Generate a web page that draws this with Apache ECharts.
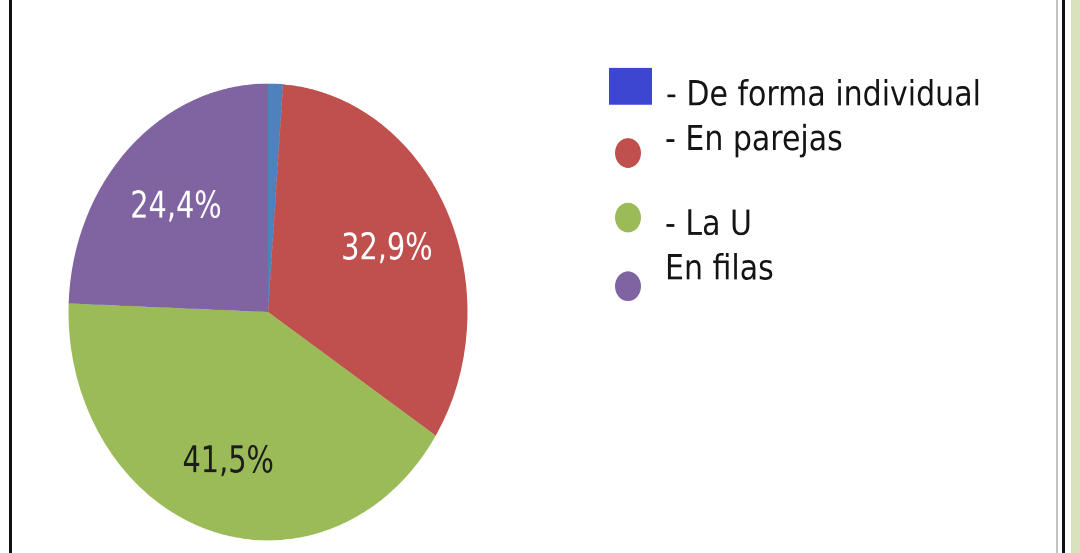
<!DOCTYPE html>
<html>
<head>
<meta charset="utf-8">
<script src="https://cdn.jsdelivr.net/npm/echarts@6/dist/echarts.min.js"></script>
<style>
  html, body { margin: 0; padding: 0; background: #ffffff; overflow: hidden; }
  #page { position: relative; width: 1080px; height: 553px; overflow: hidden; background: #fff; }
  #chart { position: absolute; left: 0; top: 0; width: 1080px; height: 483px; transform: scaleY(1.14493); transform-origin: 0 0; }
  .line { position: absolute; top: 0; height: 553px; }
</style>
</head>
<body>
<div id="page">
  <div id="chart"></div>
  <div class="line" style="left:9px;width:3px;background:#111;"></div>
  <div class="line" style="left:1056px;width:2px;background:#c4c4c4;"></div>
  <div class="line" style="left:1062px;width:3px;background:#111;"></div>
  <div class="line" style="left:1071px;width:9px;background:#d8e3bd;"></div>
</div>
<script>
// ---- data ----
const categories = ['- De forma individual', '- En parejas', '- La U', 'En filas'];
const values = [1.2, 32.9, 41.5, 24.4];
const showLabel = [false, true, true, true];

// ---- styles ----
const sliceColors = ['#4F81BD', '#C0504D', '#9BBB59', '#8064A2'];
const legendColors = ['#3C46D0', '#C0504D', '#9BBB59', '#8064A2'];
const labelColors = ['#ffffff', '#ffffff', '#1c1c1c', '#ffffff'];
const legendIcons = ['rect', 'circle', 'circle', 'circle'];

// legend layout (unscaled coordinates); shift = text offset from icon centre (+ down, - up)
const legendLayout = [
  { left: 609, iconTop: 59.4,  w: 43, h: 32, padLeft: 9,  shift: 7 },
  { left: 615, iconTop: 120.6, w: 28, h: 26, padLeft: 18, shift: -12.6 },
  { left: 615, iconTop: 177,   w: 28, h: 26, padLeft: 18, shift: 5 },
  { left: 615, iconTop: 237,   w: 28, h: 26, padLeft: 18, shift: -16 }
];
const legendFontSize = 30;

const legendFont = '"DejaVu Sans", "Noto Sans", sans-serif';
const labelFont = '"Liberation Sans Narrow", "DejaVu Sans Condensed", "Roboto", sans-serif';

const fmt = v => v.toFixed(1).replace('.', ',') + '%';

const chart = echarts.init(document.getElementById('chart'), null, { renderer: 'canvas', devicePixelRatio: 2 });

const center = [268, 272.5];
const R = 199.5;

const option = {
  animation: false,
  backgroundColor: 'transparent',
  legend: categories.map((c, i) => {
    const L = legendLayout[i];
    const t = L.shift + 2;               // line-centre target (glyphs sit ~2px above line centre)
    const lh = Math.max(2, 2 * Math.abs(t));
    const H = lh + Math.max(lh, legendFontSize);
    const boxTop = Math.min(0, L.h / 2 - H / 2);
    return {
      orient: 'vertical',
      left: L.left,
      top: L.iconTop + boxTop,
      padding: 0,
      itemWidth: L.w,
      itemHeight: L.h,
      selectedMode: false,
      formatter: name => (t > 0 ? '\n' + name : name + '\n'),
      data: [{ name: c, icon: legendIcons[i], itemStyle: { color: legendColors[i], borderWidth: 0 } }],
      textStyle: {
        fontFamily: legendFont,
        fontSize: legendFontSize,
        lineHeight: lh,
        color: '#141414',
        padding: [0, 0, 0, L.padLeft]
      }
    };
  }),
  series: [
    {
      type: 'pie',
      center: center,
      radius: R,
      startAngle: 90,
      clockwise: true,
      silent: true,
      label: { show: false },
      labelLine: { show: false },
      itemStyle: { borderWidth: 0 },
      emphasis: { disabled: true },
      data: categories.map((c, i) => ({ name: c, value: values[i], itemStyle: { color: sliceColors[i] } }))
    },
    {
      type: 'pie',
      center: center,
      radius: [60, R],
      startAngle: 90,
      clockwise: true,
      silent: true,
      z: 5,
      itemStyle: { color: 'rgba(0,0,0,0)', borderWidth: 0 },
      emphasis: { disabled: true },
      labelLine: { show: false },
      labelLayout: { dy: 5 },
      label: {
        show: true,
        position: 'inside',
        fontFamily: labelFont,
        fontSize: 32,
        formatter: p => fmt(p.value)
      },
      data: categories.map((c, i) => ({
        name: c,
        value: values[i],
        label: { show: showLabel[i], color: labelColors[i] }
      }))
    }
  ]
};

chart.setOption(option);
</script>
</body>
</html>
